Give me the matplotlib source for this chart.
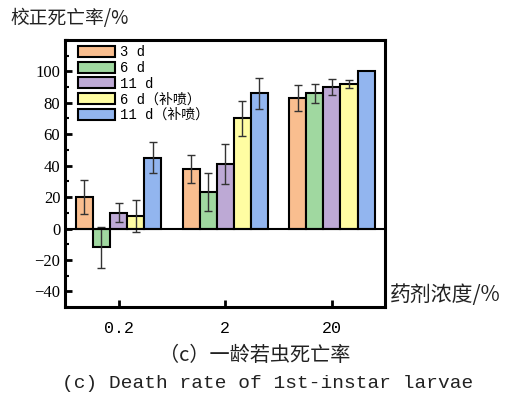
import numpy as np
import matplotlib
matplotlib.use("Agg")
import matplotlib.pyplot as plt
from matplotlib.ticker import MultipleLocator

plt.rcParams['font.family'] = ['Liberation Serif', 'Noto Sans CJK SC', 'DejaVu Sans']

# data
concentrations = ['0.2', '2', '20']
series_labels = ['3 d', '6 d', '11 d', '6 d（补喷）', '11 d（补喷）']
colors = ['#F9BE8F', '#A0D8A0', '#BDA9D5', '#FFFDA2', '#92B5EF']

rate_3d = [20, 38, 83]
rate_6d = [-12, 23, 86]
rate_11d = [10, 41, 90]
rate_6d_re = [8, 70, 92]
rate_11d_re = [45, 86, 100]

err_3d = [11, 9, 8.5]
err_6d = [13, 12, 6]
err_11d = [6, 13, 5]
err_6d_re = [10, 11, 2.5]
err_11d_re = [10, 10, 0]

values = [rate_3d, rate_6d, rate_11d, rate_6d_re, rate_11d_re]
errors = [err_3d, err_6d, err_11d, err_6d_re, err_11d_re]

fig = plt.figure(figsize=(5.09, 4.03), dpi=100)
ax = fig.add_axes([0.128, 0.238, 0.629, 0.663])

x = np.arange(len(concentrations))
width = 0.16
for i in range(len(series_labels)):
    pos = x + (i - 2) * width
    err = [e if e > 0 else np.nan for e in errors[i]]
    ax.bar(pos, values[i], width, color=colors[i], edgecolor='black',
           linewidth=1.5, label=series_labels[i], zorder=2)
    ax.errorbar(pos, values[i], yerr=err, fmt='none', ecolor='#333333',
                elinewidth=1.0, capsize=3, capthick=1.0, zorder=3)

ax.axhline(0, color='black', linewidth=1.5, zorder=4)

ax.set_xlim(-0.5, 2.5)
ax.set_ylim(-50, 120)
ax.set_yticks([-40, -20, 0, 20, 40, 60, 80, 100])
ax.set_yticklabels(['−40', '−20', '0', '20', '40', '60', '80', '100'], fontsize=12)
ax.yaxis.set_minor_locator(MultipleLocator(10))
ax.set_xticks(x)
ax.set_xticklabels(concentrations, fontsize=12, family=['Liberation Mono'])
ax.tick_params(axis='both', which='major', direction='in', length=5, width=2)
ax.tick_params(axis='y', which='minor', direction='in', length=3, width=1.5)
ax.tick_params(axis='x', pad=10)
for s in ax.spines.values():
    s.set_linewidth(2.2)

leg = ax.legend(loc='upper left', bbox_to_anchor=(0.03, 0.99), frameon=False,
                handlelength=2.7, handleheight=0.85, labelspacing=0.12,
                handletextpad=0.35, borderaxespad=0.0, borderpad=0.2,
                prop={'family': ['Liberation Mono', 'Noto Sans CJK SC'], 'size': 10})

fig.text(0.02, 0.955, '校正死亡率/%', fontsize=13.5, ha='left', va='center',
         family=['Noto Sans CJK SC'], color='#222222')
fig.text(0.765, 0.268, '药剂浓度/%', fontsize=15, ha='left', va='center',
         family=['Noto Sans CJK SC'], color='#222222')
fig.text(0.50, 0.118, '（c）一龄若虫死亡率', fontsize=14.5, ha='center', va='center',
         family=['Noto Sans CJK SC'], color='#222222')
fig.text(0.525, 0.048, '(c) Death rate of 1st-instar larvae', fontsize=14,
         ha='center', va='center', family=['Liberation Mono'], color='#222222')

fig.savefig('out.png', dpi=100)
